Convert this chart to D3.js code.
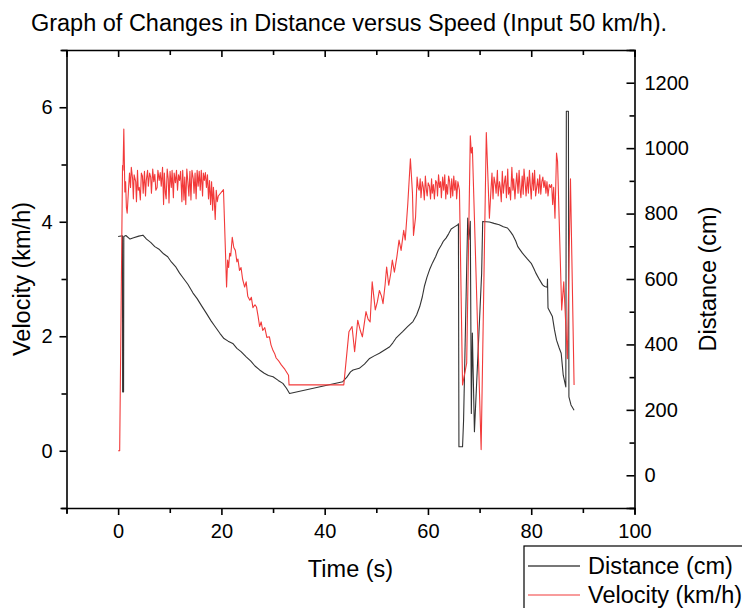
<!DOCTYPE html>
<html>
<head>
<meta charset="utf-8">
<script src="https://cdn.jsdelivr.net/npm/d3@7"></script>
<style>
  body { margin: 0; background: #fff; }
  svg { font-family: "Liberation Sans", Arial, sans-serif; }
</style>
</head>
<body>
<svg id="chart" width="742" height="608"></svg>
<script>
// Tick values and labels
const timeTicks = [-10, 0, 10, 20, 30, 40, 50, 60, 70, 80, 90, 100];
const timeTickLabels = [0, 20, 40, 60, 80, 100];
const velocityTicks = [-1, 0, 1, 2, 3, 4, 5, 6, 7];
const velocityTickLabels = [0, 2, 4, 6];
const distanceTicks = [-100, 0, 100, 200, 300, 400, 500, 600, 700, 800, 900, 1000, 1100, 1200, 1300];
const distanceTickLabels = [0, 200, 400, 600, 800, 1000, 1200];

const seriesNames = ['Distance (cm)', 'Velocity (km/h)'];

// Distance (cm), [time s, distance cm]
const distancePoints = [
  [0, 730], [0.85, 732], [0.87, 255], [1.05, 255], [1.1, 730], [1.5, 733], [2.3, 722], [3.0, 726],
  [4.0, 731], [4.8, 734], [5.5, 722], [6.3, 712], [7.1, 699], [8.0, 690], [8.8, 677], [9.6, 668],
  [10.3, 652], [11.2, 636], [11.9, 618], [12.6, 603], [13.5, 584], [14.5, 557], [15.3, 540],
  [16.2, 517], [17.1, 495], [18.0, 472], [18.8, 454], [19.7, 434], [20.5, 418], [21.3, 410],
  [22.2, 403], [23.0, 388], [23.8, 378], [24.8, 362], [25.7, 349], [26.5, 334], [27.4, 322],
  [28.3, 312], [29.1, 305], [30.0, 301], [31.0, 290], [31.9, 281], [32.6, 266], [33.2, 250],
  [43.5, 286], [44.3, 300], [45.0, 316], [45.5, 322], [46.7, 327], [47.7, 340], [48.7, 357],
  [49.6, 365], [50.6, 373], [51.6, 383], [52.6, 393], [53.2, 405], [53.8, 419], [54.5, 430],
  [55.1, 439], [56.1, 455], [57.1, 470], [57.8, 490], [58.4, 515], [58.9, 545], [59.3, 577],
  [59.8, 605], [60.3, 628], [60.9, 650], [61.5, 669], [62.0, 688], [62.6, 704], [63.0, 716],
  [63.5, 725], [64.0, 738], [64.5, 753], [65.2, 760], [65.8, 766], [65.9, 769], [66.0, 87],
  [66.7, 87], [66.9, 168], [67.7, 786], [67.9, 720], [68.2, 776], [68.4, 189], [68.6, 435],
  [69.0, 133], [70.4, 618], [70.6, 776], [71.9, 774], [72.8, 770], [73.8, 766], [74.6, 760],
  [75.4, 756], [76.0, 744], [76.4, 735], [77.0, 716], [77.4, 699], [78.3, 679], [79.2, 662],
  [80.0, 648], [80.5, 632], [80.9, 618], [81.6, 598], [82.2, 582], [82.6, 577], [83.1, 575],
  [83.15, 600], [83.25, 511], [84.1, 485], [84.5, 445], [84.9, 413], [85.4, 390], [85.8, 373],
  [86.2, 306], [86.7, 270], [86.8, 1113], [87.2, 1113], [87.3, 240], [87.7, 215], [88.3, 199]
];

// Velocity (km/h), [time s, velocity km/h]
const velocityPoints = [
  [0, 0], [0.3, 0], [0.85, 4.98], [0.95, 4.9], [1.1, 5.62], [1.3, 4.52], [1.45, 4.7], [1.6, 4.25],
  [1.75, 4.15], [2.0, 4.55], [2.2, 4.85], [2.4, 4.6], [2.55, 4.95], [2.8, 4.75], [2.95, 4.4],
  [3.1, 4.82], [3.4, 4.7], [3.55, 4.35], [3.75, 4.9], [3.9, 4.55], [4.1, 4.6], [4.3, 4.38],
  [4.5, 4.85], [4.7, 4.8], [4.85, 4.5], [5.1, 4.88], [5.3, 4.45], [5.45, 4.72], [5.7, 4.9],
  [5.85, 4.62], [6.1, 4.85], [6.3, 4.78], [6.45, 4.5], [6.7, 4.92], [6.9, 4.7], [7.1, 4.83],
  [7.3, 4.55], [7.55, 4.6], [7.7, 4.9], [7.95, 4.72], [8.15, 4.86], [8.35, 4.62], [8.6, 4.95],
  [8.8, 4.3], [8.95, 4.85], [9.15, 4.5], [9.3, 4.4], [9.5, 4.92], [9.7, 4.75], [9.85, 4.33],
  [10.05, 4.88], [10.3, 4.6], [10.45, 4.9], [10.7, 4.42], [10.85, 4.85], [11.1, 4.68], [11.3, 4.9],
  [11.5, 4.55], [11.7, 4.82], [11.9, 4.72], [12.1, 4.88], [12.35, 4.35], [12.5, 4.9], [12.75, 4.38],
  [12.9, 4.78], [13.1, 4.3], [13.3, 4.92], [13.5, 4.7], [13.7, 4.45], [13.9, 4.88], [14.1, 4.38],
  [14.3, 4.9], [14.55, 4.75], [14.7, 4.5], [14.9, 4.85], [15.1, 4.4], [15.3, 4.9], [15.5, 4.62],
  [15.7, 4.88], [15.9, 4.55], [16.1, 4.9], [16.35, 4.45], [16.5, 4.85], [16.7, 4.72], [16.9, 4.86],
  [17.1, 4.6], [17.3, 4.82], [17.5, 4.4], [17.7, 4.72], [17.9, 4.3], [18.1, 4.7], [18.3, 4.2],
  [18.45, 4.6], [18.6, 4.4], [18.8, 4.04], [19.0, 4.55], [19.2, 4.35], [19.4, 4.45], [20.4, 4.56],
  [21.0, 2.86], [21.2, 3.33], [21.4, 3.2], [21.6, 3.45], [21.8, 3.4], [22.1, 3.73], [22.4, 3.55],
  [22.7, 3.5], [23.0, 3.3], [23.2, 3.35], [23.5, 3.15], [23.8, 3.2], [24.1, 3.0], [24.5, 2.86],
  [24.8, 2.95], [25.1, 2.7], [25.5, 2.63], [25.8, 2.68], [26.1, 2.5], [26.5, 2.55], [26.8, 2.51],
  [27.1, 2.35], [27.4, 2.17], [27.7, 2.25], [28.0, 2.1], [28.4, 2.15], [28.8, 1.98], [29.3, 1.99],
  [29.6, 1.85], [30.0, 1.75], [30.3, 1.7], [30.6, 1.62], [31.0, 1.58], [31.6, 1.5], [32.3, 1.42],
  [33.0, 1.32], [33.1, 1.15], [43.7, 1.15], [44.7, 2.08], [45.3, 2.17], [45.8, 1.73], [46.4, 2.28],
  [46.9, 2.1], [47.3, 1.99], [48.0, 2.43], [48.4, 2.3], [48.8, 2.25], [49.2, 2.95], [49.8, 2.46],
  [50.2, 2.6], [50.6, 2.8], [51.0, 2.7], [51.3, 2.57], [51.7, 2.9], [52.0, 3.21], [52.4, 2.89],
  [52.8, 3.1], [53.1, 3.33], [53.5, 3.12], [54.0, 3.4], [54.4, 3.68], [54.8, 3.5], [55.3, 3.85],
  [55.6, 3.68], [56.1, 4.32], [56.6, 5.1], [57.0, 4.5], [57.2, 3.76], [57.6, 4.08], [57.9, 4.78],
  [58.1, 4.6], [58.3, 4.55], [58.5, 4.75], [58.65, 4.42], [58.9, 4.7], [59.1, 4.6], [59.3, 4.38],
  [59.5, 4.8], [59.7, 4.55], [59.85, 4.45], [60.05, 4.68], [60.3, 4.62], [60.5, 4.4], [60.7, 4.75],
  [60.85, 4.5], [61.05, 4.65], [61.25, 4.4], [61.5, 4.72], [61.7, 4.68], [61.85, 4.45], [62.05, 4.82],
  [62.25, 4.6], [62.45, 4.7], [62.6, 4.42], [62.85, 4.78], [63.05, 4.55], [63.25, 4.82], [63.45, 4.4],
  [63.6, 4.65], [63.8, 4.48], [64.0, 4.8], [64.2, 4.7], [64.4, 4.42], [64.6, 4.75], [64.8, 4.45],
  [65.0, 4.8], [65.2, 4.55], [65.4, 4.72], [65.55, 4.4], [65.8, 4.7], [66.1, 4.55], [66.7, 1.15],
  [67.5, 1.53], [68.2, 5.5], [68.4, 5.2], [68.6, 5.3], [70.3, 0.02], [71.3, 5.56], [71.9, 4.06],
  [72.2, 4.55], [72.4, 4.85], [72.6, 4.4], [72.8, 4.78], [73.05, 4.65], [73.2, 4.5], [73.45, 4.9],
  [73.6, 4.45], [73.85, 4.7], [74.0, 4.6], [74.2, 4.35], [74.4, 4.88], [74.6, 4.5], [74.85, 4.72],
  [75.0, 4.8], [75.2, 4.42], [75.45, 4.92], [75.6, 4.48], [75.8, 4.6], [76.0, 4.38], [76.25, 4.95],
  [76.45, 4.55], [76.6, 4.75], [76.85, 4.4], [77.0, 4.62], [77.2, 4.85], [77.45, 4.5], [77.65, 4.9],
  [77.85, 4.55], [78.0, 4.42], [78.25, 4.8], [78.45, 4.48], [78.6, 4.92], [78.85, 4.65], [79.0, 4.45],
  [79.25, 4.78], [79.45, 4.5], [79.65, 4.9], [79.85, 4.6], [80.0, 4.4], [80.25, 4.85], [80.45, 4.55],
  [80.65, 4.9], [80.85, 4.45], [81.05, 4.6], [81.25, 4.75], [81.45, 4.5], [81.65, 4.82], [81.85, 4.48],
  [82.05, 4.7], [82.25, 4.78], [82.45, 4.6], [82.65, 4.72], [82.85, 4.5], [83.05, 4.7], [83.25, 4.45],
  [83.5, 4.65], [83.7, 4.6], [83.95, 4.65], [84.15, 4.3], [84.35, 4.6], [84.6, 4.06], [84.9, 5.2],
  [85.1, 5.05], [85.9, 2.46], [86.3, 2.95], [87.0, 1.61], [87.6, 4.75], [88.3, 1.15]
];

const svg = d3.select('#chart');
const plotLeft = 66.5, plotRight = 634.5, plotTop = 50, plotBottom = 508;

const x  = d3.scaleLinear().domain([-10, 100]).range([plotLeft, plotRight]);
const yV = d3.scaleLinear().domain([-1, 7]).range([plotBottom, plotTop]);
const yD = d3.scaleLinear().domain([-100, 1300]).range([plotBottom, plotTop]);

// Title
svg.append('text')
  .attr('x', 349).attr('y', 31)
  .attr('text-anchor', 'middle').attr('font-size', 23.5).attr('fill', '#000')
  .text('Graph of Changes in Distance versus Speed (Input 50 km/h).');

// Data lines
const lineD = d3.line().x(d => x(d[0])).y(d => yD(d[1]));
const lineV = d3.line().x(d => x(d[0])).y(d => yV(d[1]));

svg.append('path').datum(distancePoints)
  .attr('d', lineD).attr('fill', 'none')
  .attr('stroke', '#333').attr('stroke-width', 1.1).attr('stroke-linejoin', 'round');

svg.append('path').datum(velocityPoints)
  .attr('d', lineV).attr('fill', 'none')
  .attr('stroke', '#f23a3a').attr('stroke-width', 1.1).attr('stroke-linejoin', 'round');

// Axes
function styleAxis(g) {
  g.select('.domain').attr('stroke', '#000').attr('stroke-width', 1.6);
  g.selectAll('.tick line').attr('stroke', '#000').attr('stroke-width', 1.6);
  g.selectAll('.tick text').attr('font-size', 20).attr('fill', '#000')
    .attr('font-family', '"Liberation Sans", Arial, sans-serif');
}

const gBottom = svg.append('g').attr('transform', `translate(0,${plotBottom})`)
  .call(d3.axisBottom(x).tickValues(timeTicks).tickSizeOuter(0).tickSize(6).tickPadding(10)
    .tickFormat(d => timeTickLabels.includes(d) ? d : ''));
gBottom.selectAll('.tick line').attr('y2', d => timeTickLabels.includes(d) ? 7 : 5);
styleAxis(gBottom);

const gTop = svg.append('g').attr('transform', `translate(0,${plotTop})`)
  .call(d3.axisTop(x).tickValues(timeTicks).tickSizeOuter(0).tickSize(-7).tickFormat(''));
gTop.selectAll('.tick line').attr('y2', d => timeTickLabels.includes(d) ? 7 : 5);
styleAxis(gTop);

const gLeft = svg.append('g').attr('transform', `translate(${plotLeft},0)`)
  .call(d3.axisLeft(yV).tickValues(velocityTicks).tickSizeOuter(0).tickSize(6).tickPadding(8)
    .tickFormat(d => velocityTickLabels.includes(d) ? d : ''));
gLeft.selectAll('.tick line').attr('x2', d => velocityTickLabels.includes(d) ? -7 : -5);
styleAxis(gLeft);

const gRight = svg.append('g').attr('transform', `translate(${plotRight},0)`)
  .call(d3.axisRight(yD).tickValues(distanceTicks).tickSizeOuter(0).tickSize(-8).tickPadding(10)
    .tickFormat(d => distanceTickLabels.includes(d) ? d : ''));
gRight.selectAll('.tick line').attr('x2', d => distanceTickLabels.includes(d) ? -8 : -5);
styleAxis(gRight);

// Axis titles
svg.append('text')
  .attr('transform', `translate(30,${(plotTop + plotBottom) / 2}) rotate(-90)`)
  .attr('text-anchor', 'middle').attr('font-size', 23.5).text('Velocity (km/h)');
svg.append('text')
  .attr('transform', `translate(716,${(plotTop + plotBottom) / 2}) rotate(-90)`)
  .attr('text-anchor', 'middle').attr('font-size', 23.5).text('Distance (cm)');
svg.append('text')
  .attr('x', (plotLeft + plotRight) / 2).attr('y', 577)
  .attr('text-anchor', 'middle').attr('font-size', 23.5).text('Time (s)');

// Legend
const legend = svg.append('g').attr('transform', 'translate(524,546)');
legend.append('rect').attr('x', 0).attr('y', 0).attr('width', 240).attr('height', 80)
  .attr('fill', '#fff').attr('stroke', '#000').attr('stroke-width', 1.2);
const legendColors = ['#777', '#f23a3a'];
seriesNames.forEach((name, i) => {
  const cy = 20 + i * 29;
  legend.append('line').attr('x1', 4).attr('x2', 56).attr('y1', cy).attr('y2', cy)
    .attr('stroke', legendColors[i]).attr('stroke-width', i === 0 ? 1.8 : 1.1);
  legend.append('text').attr('x', 64).attr('y', cy + 8)
    .attr('font-size', 23.5).text(name);
});
</script>
</body>
</html>
